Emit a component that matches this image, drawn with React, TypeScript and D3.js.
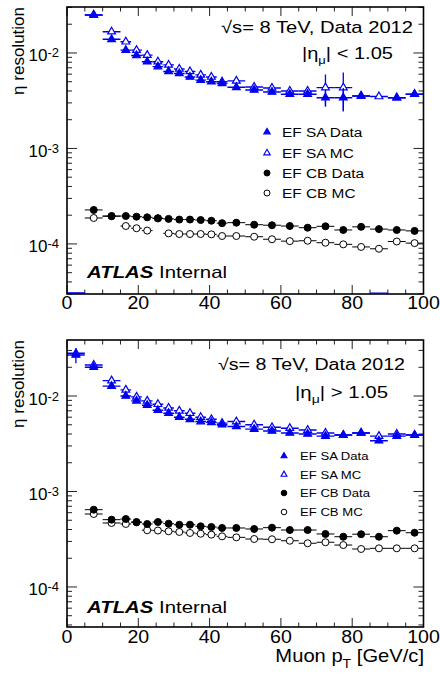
import React, { useEffect, useRef } from "react";
import * as d3 from "d3";

// muon pT bins [GeV/c]
const binEdges = [0, 5, 10, 15, 18, 21, 24, 27, 30, 33, 36, 39, 42, 45, 50, 55, 60, 65, 70, 75, 80, 85, 90, 95, 100];
const xTickLabels = [0, 20, 40, 60, 80, 100];
const decadeLabels = [-2, -3, -4];

// |eta_mu| < 1.05   (0 = empty bin drawn on the axis, null = no entry)
const barrelSaData = [0, 0.025, 0.0139, 0.0107, 0.0094, 0.0081, 0.0072, 0.0064, 0.0061, 0.0056, 0.0052, 0.005, 0.0048, 0.00437, 0.0041, 0.0039, 0.0037, 0.0037, 0.0034, 0.0034, 0.00354, 0, 0.0034, 0.0037];
const barrelSaDataErr = [0, 0.0012, 0.0004, 0.0002, 0.0002, 0.00015, 0.00012, 0.0001, 0.0001, 0.0001, 0.0001, 0.0001, 0.0001, 0.0001, 0.0001, 0.0001, 0.0001, 0.00012, 0.0006, 0.0009, 0.00015, 0, 0.00015, 0.00015];
const barrelSaMc = [0, 0.025, 0.0167, 0.0131, 0.0107, 0.0095, 0.0081, 0.0075, 0.0068, 0.0064, 0.0059, 0.0056, 0.005, 0.0051, 0.0044, 0.0043, 0.004, 0.004, 0.00434, 0.00434, 0.00354, 0.0035, 0.0034, 0.0037];
const barrelSaMcErr = [0, 0.0012, 0.0006, 0.0003, 0.0002, 0.0002, 0.00015, 0.00012, 0.0001, 0.0001, 0.0001, 0.0001, 0.0001, 0.00012, 0.0001, 0.0001, 0.0001, 0.00012, 0.0016, 0.0019, 0.00015, 0.00015, 0.00015, 0.00015];
const barrelCbData = [null, 2.27e-4, 1.96e-4, 1.96e-4, 1.93e-4, 1.9e-4, 1.86e-4, 1.83e-4, 1.8e-4, 1.8e-4, 1.78e-4, 1.75e-4, 1.65e-4, 1.67e-4, 1.59e-4, 1.57e-4, 1.54e-4, 1.48e-4, 1.53e-4, 1.4e-4, 1.51e-4, 1.43e-4, 1.4e-4, 1.37e-4];
const barrelCbMc = [null, 1.87e-4, 1.95e-4, 1.54e-4, 1.46e-4, 1.38e-4, 1.85e-4, 1.29e-4, 1.27e-4, 1.27e-4, 1.27e-4, 1.26e-4, 1.21e-4, 1.21e-4, 1.19e-4, 1.12e-4, 1.07e-4, 1.08e-4, 1.03e-4, 0.99e-4, 0.93e-4, 0.89e-4, 1.06e-4, 1.02e-4];

// |eta_mu| > 1.05
const endcapSaData = [0.0269, 0.02, 0.0127, 0.01, 0.0089, 0.008, 0.0071, 0.0066, 0.006, 0.0057, 0.0054, 0.0053, 0.005, 0.0048, 0.0045, 0.0043, 0.0041, 0.004, 0.0038, 0.0039, 0.0041, 0.0034, 0.0038, 0.0039];
const endcapSaDataErr = [0.0048, 0.0006, 0.0003, 0.0002, 0.0002, 0.00015, 0.00012, 0.0001, 0.0001, 0.0001, 0.0001, 0.0001, 0.0001, 0.0001, 0.0001, 0.0001, 0.0001, 0.0001, 0.0001, 0.0001, 0.0001, 0.0002, 0.0001, 0.0001];
const endcapSaMc = [0.028, 0.0211, 0.0145, 0.0116, 0.0098, 0.0089, 0.0082, 0.0075, 0.007, 0.0066, 0.006, 0.0057, 0.0052, 0.0054, 0.005, 0.0047, 0.0046, 0.0044, 0.0041, 0.0039, 0.0041, 0.0038, 0.004, 0.0039];
const endcapSaMcErr = [0.0015, 0.0006, 0.0004, 0.0003, 0.0002, 0.0002, 0.00015, 0.00012, 0.0001, 0.0001, 0.0001, 0.0001, 0.0001, 0.0001, 0.0001, 0.0001, 0.0001, 0.0001, 0.0001, 0.0001, 0.0001, 0.0001, 0.0001, 0.0001];
const endcapCbData = [null, 6.45e-4, 5.07e-4, 5.15e-4, 4.79e-4, 4.57e-4, 4.79e-4, 4.6e-4, 4.49e-4, 4.49e-4, 4.32e-4, 4.25e-4, 4.15e-4, 4.15e-4, 4.05e-4, 4.18e-4, 3.95e-4, 3.95e-4, 3.59e-4, 3.36e-4, 3.57e-4, 3.36e-4, 3.89e-4, 3.7e-4];
const endcapCbMc = [null, 5.81e-4, 4.68e-4, 4.57e-4, 4.75e-4, 3.93e-4, 3.9e-4, 3.83e-4, 3.77e-4, 3.68e-4, 3.61e-4, 3.53e-4, 3.39e-4, 3.31e-4, 3.18e-4, 3.16e-4, 3.05e-4, 2.87e-4, 2.94e-4, 2.75e-4, 2.5e-4, 2.54e-4, 2.54e-4, 2.54e-4];

const legendLabels = ["EF SA Data", "EF SA MC", "EF CB Data", "EF CB MC"];

const FONT = "'Liberation Sans', Arial, Helvetica, sans-serif";
const BLUE = "#0000f0";
const X0 = 67;
const X1 = 423.5;

const panels = [
  {
    top: 7, bottom: 294, yDomain: [2.99e-5, 3.03e-2],
    saData: barrelSaData, saDataErr: barrelSaDataErr, saMc: barrelSaMc, saMcErr: barrelSaMcErr,
    cbData: barrelCbData, cbMc: barrelCbMc,
    eta: "<", head: { x: 221, y: 33, len: 192, fs: 17 }, etaPos: { x: 302, y: 59, len: 91, fs: 17 },
    legend: { mx: 267, tx: 282, ys: [132, 153, 173, 193], fs: 13.5, tri: 18, r: 3 },
    atlasY: 278, labelY: 309, xTitle: false,
  },
  {
    top: 340, bottom: 627, yDomain: [3.81e-5, 3.86e-2],
    saData: endcapSaData, saDataErr: endcapSaDataErr, saMc: endcapSaMc, saMcErr: endcapSaMcErr,
    cbData: endcapCbData, cbMc: endcapCbMc,
    eta: ">", head: { x: 218, y: 370, len: 187, fs: 16 }, etaPos: { x: 295, y: 398, len: 93, fs: 16 },
    legend: { mx: 284, tx: 300, ys: [456, 474.5, 493, 512], fs: 11.5, tri: 15, r: 2.8 },
    atlasY: 613, labelY: 643, xTitle: true,
  },
];

const App = () => {
  const svgEl = useRef(null);

  useEffect(() => {
    if (!svgEl.current) return;
    const svg = d3.select(svgEl.current);
    svg.selectAll("*").remove();
    panels.forEach((p) => drawPanel(svg, p));
  }, [svgEl]);

  return (
    <svg ref={svgEl} width={440} height={681} style={{ display: "block", position: "absolute", left: 0, top: 0, background: "#fff" }} />
  );
};

function drawPanel(svg, p) {
  const x = d3.scaleLinear().domain([0, 100]).range([X0, X1]);
  const y = d3.scaleLog().domain(p.yDomain).range([p.bottom, p.top]);
  const g = svg.append("g").attr("font-family", FONT);

  // ticks
  const xMinor = d3.range(0, 101, 5);
  xMinor.forEach((v) => {
    const len = v % 20 === 0 ? 9 : 4.5;
    g.append("line").attr("x1", x(v)).attr("x2", x(v)).attr("y1", p.bottom).attr("y2", p.bottom - len).attr("stroke", "#222");
    g.append("line").attr("x1", x(v)).attr("x2", x(v)).attr("y1", p.top).attr("y2", p.top + len).attr("stroke", "#222");
  });
  y.ticks(30).forEach((v) => {
    const lg = Math.log10(v);
    const major = Math.abs(lg - Math.round(lg)) < 1e-6;
    const len = major ? 10 : 5;
    g.append("line").attr("x1", X0).attr("x2", X0 + len).attr("y1", y(v)).attr("y2", y(v)).attr("stroke", "#222");
    g.append("line").attr("x1", X1).attr("x2", X1 - len).attr("y1", y(v)).attr("y2", y(v)).attr("stroke", "#222");
  });

  // tick labels
  xTickLabels.forEach((v) => {
    g.append("text")
      .attr("transform", `translate(${x(v)},${p.labelY}) scale(1.12,1)`)
      .attr("text-anchor", "middle").attr("font-size", 17.5).text(v);
  });
  decadeLabels.forEach((d) => {
    const t = g.append("text")
      .attr("transform", `translate(59,${y(Math.pow(10, d)) + 8.5})`)
      .attr("text-anchor", "end").attr("font-size", 17);
    t.append("tspan").text("10");
    t.append("tspan").attr("font-size", 13).attr("dy", -4).text(`-${-d}`);
  });

  // axis titles
  g.append("text")
    .attr("transform", `translate(24,${p.top}) rotate(-90)`)
    .attr("text-anchor", "end").attr("font-size", 17).text("η resolution");
  if (p.xTitle) {
    const t = g.append("text")
      .attr("transform", "translate(424,662) scale(1.12,1)")
      .attr("text-anchor", "end").attr("font-size", 18);
    t.append("tspan").text("Muon p");
    t.append("tspan").attr("font-size", 12.5).attr("dy", 6).text("T");
    t.append("tspan").attr("dy", -6).text(" [GeV/c]");
  }

  // series: MC under data
  const clip = `clip${p.top}`;
  g.append("clipPath").attr("id", clip).append("rect")
    .attr("x", X0).attr("y", p.top).attr("width", X1 - X0).attr("height", p.bottom - p.top);
  const plot = g.append("g").attr("clip-path", `url(#${clip})`);
  drawSeries(plot, x, y, p, p.cbMc, null, "#000", "circle", false);
  drawSeries(plot, x, y, p, p.cbData, null, "#000", "circle", true);
  drawSeries(plot, x, y, p, p.saMc, p.saMcErr, BLUE, "triangle", false);
  drawSeries(plot, x, y, p, p.saData, p.saDataErr, BLUE, "triangle", true);

  // labels
  g.append("text").attr("x", p.head.x).attr("y", p.head.y).attr("font-size", p.head.fs)
    .attr("textLength", p.head.len).attr("lengthAdjust", "spacingAndGlyphs")
    .text("√s= 8 TeV, Data 2012");
  const eta = g.append("text").attr("x", p.etaPos.x).attr("y", p.etaPos.y).attr("font-size", p.etaPos.fs)
    .attr("textLength", p.etaPos.len).attr("lengthAdjust", "spacingAndGlyphs");
  eta.append("tspan").text("|η");
  eta.append("tspan").attr("font-size", 11).attr("dy", 5).text("μ");
  eta.append("tspan").attr("dy", -5).text(`| ${p.eta} 1.05`);

  const atlas = g.append("text").attr("x", 87).attr("y", p.atlasY).attr("font-size", 16.5)
    .attr("textLength", 140).attr("lengthAdjust", "spacingAndGlyphs");
  atlas.append("tspan").attr("font-weight", "bold").attr("font-style", "italic").text("ATLAS");
  atlas.append("tspan").text(" Internal");

  // legend
  const lg = p.legend;
  legendLabels.forEach((label, i) => {
    const cy = lg.ys[i];
    if (i < 2) {
      g.append("path").attr("d", d3.symbol().type(d3.symbolTriangle).size(lg.tri)())
        .attr("transform", `translate(${lg.mx},${cy})`)
        .attr("fill", i === 0 ? BLUE : "#fff").attr("stroke", BLUE).attr("stroke-width", 1.1);
    } else {
      g.append("circle").attr("cx", lg.mx).attr("cy", cy).attr("r", lg.r)
        .attr("fill", i === 2 ? "#000" : "#fff").attr("stroke", "#000").attr("stroke-width", 1);
    }
    g.append("text")
      .attr("transform", `translate(${lg.tx},${cy + lg.fs * 0.36}) scale(1.14,1)`)
      .attr("font-size", lg.fs).text(label);
  });

  // frame
  g.append("rect").attr("x", X0).attr("y", p.top).attr("width", X1 - X0).attr("height", p.bottom - p.top)
    .attr("fill", "none").attr("stroke", "#000").attr("stroke-width", 1.6);
}

function drawSeries(g, x, y, p, values, errors, color, shape, filled) {
  values.forEach((v, i) => {
    if (v === null) return;
    const cx = x((binEdges[i] + binEdges[i + 1]) / 2);
    const x0 = x(binEdges[i]);
    const x1 = x(binEdges[i + 1]);
    if (v <= 0) {
      g.append("line").attr("x1", x0).attr("x2", x1).attr("y1", p.bottom - 1).attr("y2", p.bottom - 1)
        .attr("stroke", color).attr("stroke-width", 1.1);
      return;
    }
    const cy = y(v);
    g.append("line").attr("x1", x0).attr("x2", x1).attr("y1", cy).attr("y2", cy)
      .attr("stroke", color).attr("stroke-width", shape === "triangle" ? 1.4 : 1);
    const e = errors ? errors[i] : 0;
    if (e > 0) {
      g.append("line").attr("x1", cx).attr("x2", cx).attr("y1", y(v + e)).attr("y2", y(Math.max(v - e, 1e-6)))
        .attr("stroke", color).attr("stroke-width", 1.3);
    }
    if (shape === "triangle") {
      g.append("path").attr("d", d3.symbol().type(d3.symbolTriangle).size(26)())
        .attr("transform", `translate(${cx},${cy})`)
        .attr("fill", filled ? color : "#fff").attr("stroke", color).attr("stroke-width", 1.2);
    } else {
      g.append("circle").attr("cx", cx).attr("cy", cy).attr("r", 3.5)
        .attr("fill", filled ? color : "#fff").attr("stroke", color).attr("stroke-width", 1);
    }
  });
}

export default App;
